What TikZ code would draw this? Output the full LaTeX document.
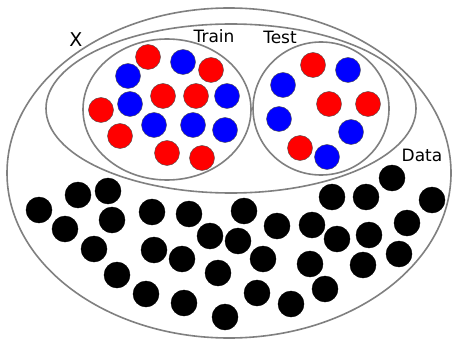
\documentclass[tikz,border=0pt]{standalone}
\usepackage{fontspec}
\setmainfont{DejaVu Sans}
\usetikzlibrary{shapes.geometric}
\begin{document}
\begin{tikzpicture}[x=1pt,y=-1pt,
  setline/.style={draw=black!50,line width=1.6pt},
  reddot/.style={circle,fill=red,draw=black!70,line width=0.4pt,minimum size=25pt,inner sep=0pt},
  bluedot/.style={circle,fill=blue,draw=black!70,line width=0.4pt,minimum size=25pt,inner sep=0pt},
  blackdot/.style={circle,fill=black,draw=black,line width=0.4pt,minimum size=26pt,inner sep=0pt},
  lbl/.style={font=\fontsize{17}{19}\selectfont,inner sep=0pt}]
\useasboundingbox (0,0) rectangle (454,339);
\fill[white] (0,0) rectangle (454,339);
% sets
\node[ellipse,setline,minimum width=444pt,minimum height=330pt,inner sep=0pt] (X) at (229,173) {};
\node[ellipse,setline,minimum width=370pt,minimum height=169pt,inner sep=0pt] (data) at (231,108.5) {};
\node[ellipse,setline,minimum width=168pt,minimum height=141pt,inner sep=0pt] (train) at (167,109.5) {};
\node[ellipse,setline,minimum width=136pt,minimum height=133pt,inner sep=0pt] (test) at (321,108.5) {};
% labels
\node[lbl,font=\fontsize{19}{21}\selectfont] (lx) at (76,40) {X};
\node[lbl] (ltrain) at (214,36) {Train};
\node[lbl] (ltest) at (280,37) {Test};
\node[lbl] (ldata) at (422,155) {Data};
% train dots
\foreach \x/\y [count=\i] in {148/57,211/70,163/96,196/96,101/110,120/136,167/153,202/158}
  \node[reddot] (tr\i) at (\x,\y) {};
\foreach \x/\y [count=\i] in {183/62,128/76,227/96,130/104,154/125,193/125,225/130}
  \node[bluedot] (tb\i) at (\x,\y) {};
% test dots
\foreach \x/\y [count=\i] in {313/65,329/104,368/104,300/148}
  \node[reddot] (sr\i) at (\x,\y) {};
\foreach \x/\y [count=\i] in {348/70,283/85,279/119,351/132,327/157}
  \node[bluedot] (sb\i) at (\x,\y) {};
% unlabeled data
\foreach \x/\y [count=\i] in {39/210,78/195,108/191,65/229,112/220,94/249,117/275,152/212,189/214,154/250,182/259,210/236,238/241,244/211,277/226,263/259,218/273,146/294,184/303,225/317,257/293,291/304,325/289,310/264,312/225,337/239,332/197,366/197,392/178,369/235,363/265,407/223,399/254,432/200}
  \node[blackdot] (d\i) at (\x,\y) {};
\end{tikzpicture}
\end{document}
